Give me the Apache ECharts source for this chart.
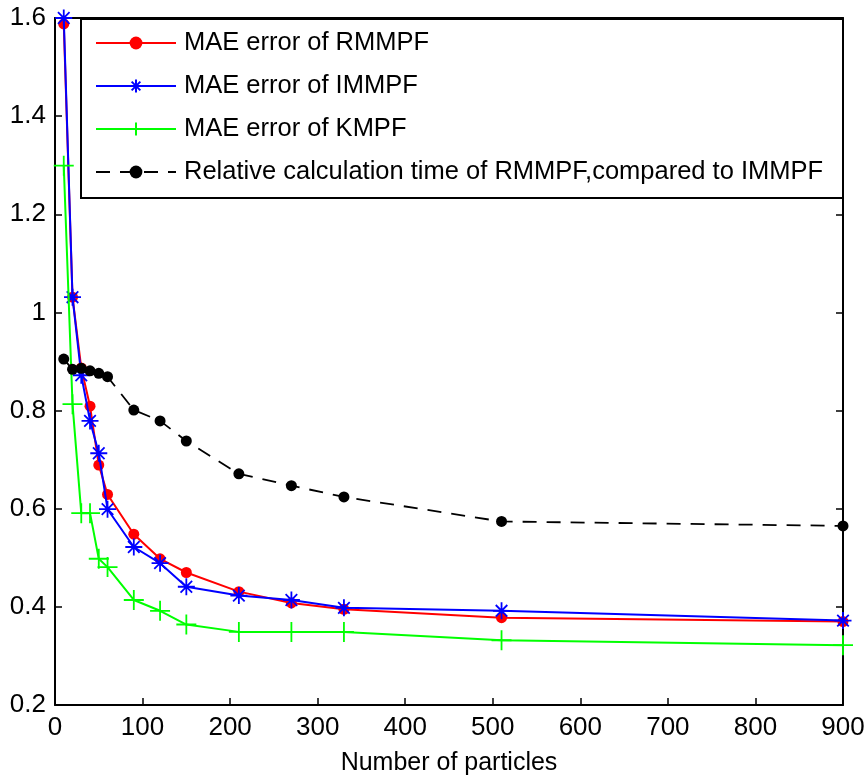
<!DOCTYPE html>
<html>
<head>
<meta charset="utf-8">
<script src="https://cdn.jsdelivr.net/npm/echarts@6/dist/echarts.min.js"></script>
<style>
html,body{margin:0;padding:0;background:#fff;}
#chart{width:868px;height:784px;}
</style>
</head>
<body>
<div id="chart"></div>
<script>
// ---- data ----
const particles = [10, 20, 30, 40, 50, 60, 90, 120, 150, 210, 270, 330, 510, 900];
const maeRMMPF = [1.588, 1.031, 0.887, 0.809, 0.689, 0.629, 0.548, 0.498, 0.470, 0.431, 0.408, 0.395, 0.378, 0.370];
const maeIMMPF = [1.600, 1.031, 0.872, 0.779, 0.713, 0.599, 0.522, 0.489, 0.441, 0.423, 0.414, 0.398, 0.392, 0.372];
const maeKMPF  = [1.299, 0.813, 0.591, 0.591, 0.498, 0.481, 0.414, 0.392, 0.364, 0.349, 0.349, 0.349, 0.332, 0.322];
const relTime  = [0.905, 0.884, 0.886, 0.881, 0.876, 0.869, 0.801, 0.779, 0.738, 0.671, 0.647, 0.624, 0.574, 0.565];
const seriesNames = ['MAE error of RMMPF', 'MAE error of IMMPF', 'MAE error of KMPF', 'Relative calculation time of RMMPF,compared to IMMPF'];
const xTicks = [0, 100, 200, 300, 400, 500, 600, 700, 800, 900];
const yTicks = [0.2, 0.4, 0.6, 0.8, 1, 1.2, 1.4, 1.6];
const xLabel = 'Number of particles';

const pairs = arr => particles.map((x, i) => [x, arr[i]]);
const FONT = '"Liberation Sans", Arial, sans-serif';

const plusPath = 'path://M0,5 L10,5 M5,0 L5,10';
const starPath = 'path://M0,5 L10,5 M5,0 L5,10 M1.6,1.6 L8.4,8.4 M1.6,8.4 L8.4,1.6';

const chart = echarts.init(document.getElementById('chart'));
const axisCommon = {
  type: 'value',
  axisLine: {show: true, onZero: false, lineStyle: {color: '#000', width: 2}},
  axisTick: {show: true, inside: true, length: 7, lineStyle: {color: '#000', width: 1.5}},
  splitLine: {show: false}
};
chart.setOption({
  animation: false,
  backgroundColor: '#fff',
  grid: {left: 55, right: 25, top: 18, bottom: 79, containLabel: false},
  graphic: [{
    type: 'rect', left: 80, top: 18, z: 90,
    shape: {width: 762, height: 179},
    style: {fill: '#fff', stroke: '#000', lineWidth: 2}
  }],
  xAxis: [
    Object.assign({}, axisCommon, {
      min: xTicks[0], max: xTicks[xTicks.length - 1], interval: 100, position: 'bottom',
      name: xLabel, nameLocation: 'middle', nameGap: 46,
      nameTextStyle: {fontFamily: FONT, fontSize: 25, color: '#000'},
      axisLabel: {fontFamily: FONT, fontSize: 26, color: '#000', margin: 10}
    }),
    Object.assign({}, axisCommon, {
      min: xTicks[0], max: xTicks[xTicks.length - 1], interval: 100, position: 'top',
      axisLabel: {show: false}
    })
  ],
  yAxis: [
    Object.assign({}, axisCommon, {
      min: yTicks[0], max: yTicks[yTicks.length - 1], interval: 0.2, position: 'left',
      axisLabel: {fontFamily: FONT, fontSize: 26, color: '#000', margin: 9,
        formatter: v => String(Math.round(v * 10) / 10)}
    }),
    Object.assign({}, axisCommon, {
      min: yTicks[0], max: yTicks[yTicks.length - 1], interval: 0.2, position: 'right',
      axisLabel: {show: false}
    })
  ],
  legend: {
    orient: 'vertical', left: 79, top: 18, z: 100,
    padding: [12, 0, 0, 16], itemGap: 17,
    itemWidth: 80, itemHeight: 16,
    textStyle: {fontFamily: FONT, fontSize: 25.5, color: '#000', padding: [0, 0, 0, 3]},
    data: seriesNames
  },
  series: [
    {
      name: seriesNames[0], type: 'line', data: pairs(maeRMMPF), clip: false,
      symbol: 'circle', symbolSize: 11,
      lineStyle: {color: '#ff0000', width: 2},
      itemStyle: {color: '#ff0000'}, z: 2
    },
    {
      name: seriesNames[1], type: 'line', data: pairs(maeIMMPF), clip: false,
      symbol: starPath, symbolSize: 17,
      lineStyle: {color: '#0000ff', width: 2},
      itemStyle: {color: '#0000ff', borderColor: '#0000ff', borderWidth: 1.8}, z: 3
    },
    {
      name: seriesNames[2], type: 'line', data: pairs(maeKMPF), clip: false,
      symbol: plusPath, symbolSize: 20,
      lineStyle: {color: '#00ff00', width: 2},
      itemStyle: {color: '#00ff00', borderColor: '#00ff00', borderWidth: 1.8}, z: 4
    },
    {
      name: seriesNames[3], type: 'line', data: pairs(relTime), clip: false,
      symbol: 'circle', symbolSize: 11,
      lineStyle: {color: '#000', width: 1.8, type: [14, 10]},
      itemStyle: {color: '#000'}, z: 5
    }
  ]
});
</script>
</body>
</html>
